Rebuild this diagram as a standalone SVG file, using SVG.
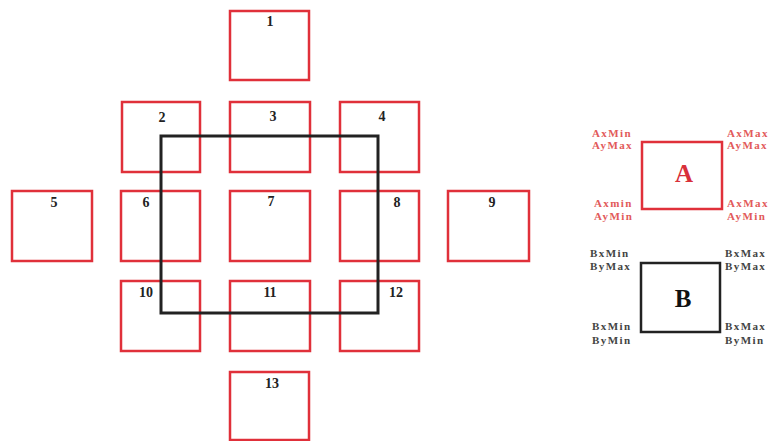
<svg xmlns="http://www.w3.org/2000/svg" width="770" height="441" viewBox="0 0 770 441">
<style>
.cell{fill:none;stroke:#e0303a;stroke-width:2.5}
.num{font-family:"Liberation Serif",serif;font-weight:bold;font-size:14px;fill:#222;text-anchor:middle}
.lblA{font-family:"Liberation Serif",serif;font-weight:bold;font-size:11px;letter-spacing:1.4px;fill:#e25a5a}
.lblB{font-family:"Liberation Serif",serif;font-weight:bold;font-size:11px;letter-spacing:1.4px;fill:#444}
</style>
<rect width="770" height="441" fill="#fff"/>
<g id="n1"><rect class="cell" x="230" y="11" width="79" height="69"/><text class="num" x="270" y="26">1</text></g>
<g id="n2"><rect class="cell" x="122" y="102" width="78" height="70"/><text class="num" x="162" y="122">2</text></g>
<g id="n3"><rect class="cell" x="230" y="102" width="80" height="70"/><text class="num" x="273" y="121">3</text></g>
<g id="n4"><rect class="cell" x="340" y="102" width="79" height="70"/><text class="num" x="382" y="121">4</text></g>
<g id="n5"><rect class="cell" x="12" y="191" width="80" height="70"/><text class="num" x="54" y="207">5</text></g>
<g id="n6"><rect class="cell" x="121" y="191" width="79" height="70"/><text class="num" x="146" y="207">6</text></g>
<g id="n7"><rect class="cell" x="230" y="191" width="80" height="70"/><text class="num" x="271" y="206">7</text></g>
<g id="n8"><rect class="cell" x="340" y="191" width="79" height="70"/><text class="num" x="397" y="207">8</text></g>
<g id="n9"><rect class="cell" x="448" y="191" width="81" height="70"/><text class="num" x="492" y="207">9</text></g>
<g id="n10"><rect class="cell" x="121" y="281" width="79" height="70"/><text class="num" x="146" y="297">10</text></g>
<g id="n11"><rect class="cell" x="230" y="281" width="80" height="70"/><text class="num" x="270" y="297">11</text></g>
<g id="n12"><rect class="cell" x="340" y="281" width="79" height="70"/><text class="num" x="396" y="297">12</text></g>
<g id="n13"><rect class="cell" x="230" y="372" width="79" height="68"/><text class="num" x="272" y="388">13</text></g>
<g id="big"><rect x="161" y="136" width="217" height="177" fill="none" stroke="#222" stroke-width="3"/></g>
<g id="legendA">
<rect x="642" y="142" width="80" height="67" fill="none" stroke="#e0303a" stroke-width="2.5"/>
<text x="684" y="182" font-family="Liberation Serif,serif" font-weight="bold" font-size="25" fill="#d8303a" text-anchor="middle">A</text>
<text class="lblA" x="592" y="137">AxMin</text><text class="lblA" x="592" y="149">AyMax</text>
<text class="lblA" x="727" y="137">AxMax</text><text class="lblA" x="727" y="149">AyMax</text>
<text class="lblA" x="594" y="207">Axmin</text><text class="lblA" x="594" y="220">AyMin</text>
<text class="lblA" x="727" y="207">AxMax</text><text class="lblA" x="727" y="220">AyMin</text>
</g>
<g id="legendB">
<rect x="641" y="263" width="79" height="69" fill="none" stroke="#222" stroke-width="2.5"/>
<text x="683" y="307" font-family="Liberation Serif,serif" font-weight="bold" font-size="25" fill="#111" text-anchor="middle">B</text>
<text class="lblB" x="590" y="257">BxMin</text><text class="lblB" x="590" y="270">ByMax</text>
<text class="lblB" x="725" y="257">BxMax</text><text class="lblB" x="725" y="270">ByMax</text>
<text class="lblB" x="592" y="330">BxMin</text><text class="lblB" x="592" y="344">ByMin</text>
<text class="lblB" x="725" y="330">BxMax</text><text class="lblB" x="725" y="344">ByMin</text>
</g>
</svg>
